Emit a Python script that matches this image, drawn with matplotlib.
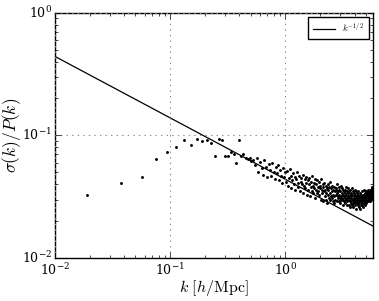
import matplotlib
matplotlib.use("Agg")
import matplotlib.pyplot as plt
import numpy as np

plt.style.use("classic")
plt.rcParams["mathtext.fontset"] = "cm"
plt.rcParams["font.family"] = "serif"
plt.rcParams["font.serif"] = ["DejaVu Serif"]

# k bins (linear spacing in k, bin index n = 1..309)
dk = 0.01885
bin_index = np.arange(1, 310)
k = dk * bin_index

ratio = [
    0.0326, 0.041, 0.046, 0.064, 0.073, 0.080, 0.091, 0.084, 0.093, 0.090,
    0.091, 0.086, 0.0685, 0.094, 0.091, 0.0685, 0.0685, 0.074, 0.071, 0.060,
    0.091, 0.068, 0.070, 0.066, 0.064, 0.065, 0.062, 0.063,
    0.057, 0.066, 0.050, 0.061, 0.054, 0.048, 0.063, 0.055, 0.046, 0.059,
    0.052, 0.047, 0.060, 0.050, 0.044, 0.055, 0.049, 0.058, 0.043, 0.052,
    0.047, 0.041, 0.054, 0.046, 0.050,
    0.042, 0.051, 0.039, 0.045, 0.053, 0.047, 0.037, 0.043, 0.049, 0.040,
    0.046, 0.036, 0.044, 0.050, 0.041, 0.038, 0.047, 0.035, 0.042, 0.045,
    0.040, 0.048, 0.034, 0.039, 0.044, 0.037, 0.046, 0.041, 0.033, 0.043,
    0.036, 0.040, 0.045, 0.032, 0.038, 0.042, 0.035, 0.047, 0.039, 0.034,
    0.041, 0.037, 0.044, 0.031, 0.036, 0.040, 0.043, 0.034, 0.038, 0.035,
    0.042, 0.033, 0.037, 0.039, 0.030, 0.044, 0.036, 0.034, 0.040, 0.029,
    0.038, 0.035, 0.041, 0.032, 0.036, 0.030, 0.039, 0.034, 0.037, 0.028,
    0.033, 0.040, 0.036, 0.031, 0.038, 0.042, 0.030, 0.034, 0.037, 0.032,
    0.035, 0.031, 0.039, 0.033, 0.029, 0.036, 0.038, 0.032, 0.028, 0.035,
    0.030, 0.037, 0.033, 0.036, 0.029, 0.034, 0.040, 0.031, 0.035, 0.032,
    0.036, 0.029, 0.033, 0.038, 0.031, 0.028, 0.035, 0.032, 0.039, 0.030,
    0.034, 0.031, 0.037, 0.027, 0.033, 0.036, 0.030, 0.035, 0.032, 0.029,
    0.036, 0.031, 0.028, 0.034, 0.038, 0.030, 0.033, 0.027, 0.035, 0.031,
    0.029, 0.034, 0.032, 0.037, 0.027, 0.031, 0.035, 0.030, 0.026, 0.033,
    0.036, 0.029, 0.032, 0.028, 0.034, 0.031, 0.037, 0.027, 0.030, 0.033,
    0.028, 0.035, 0.030, 0.026, 0.032, 0.034, 0.029, 0.031, 0.036, 0.028,
    0.030, 0.033, 0.027, 0.031, 0.035, 0.029, 0.025, 0.032, 0.030, 0.034,
    0.028, 0.031, 0.027, 0.033, 0.029, 0.035, 0.026, 0.030, 0.032, 0.028,
    0.031, 0.034, 0.029, 0.025, 0.032, 0.030, 0.027, 0.033, 0.029, 0.031,
    0.028, 0.032, 0.035, 0.029, 0.027, 0.031, 0.033, 0.030, 0.026, 0.032,
    0.030, 0.028, 0.033, 0.031, 0.036, 0.029, 0.032, 0.027, 0.030, 0.034,
    0.032, 0.029, 0.031, 0.035, 0.028, 0.033, 0.030, 0.034, 0.029, 0.032,
    0.031, 0.035, 0.033, 0.029, 0.034, 0.036, 0.030, 0.032, 0.035, 0.031,
    0.034, 0.030, 0.033, 0.036, 0.031, 0.035, 0.032, 0.029, 0.034, 0.036,
    0.032, 0.035, 0.030, 0.034, 0.037, 0.031, 0.036, 0.033, 0.035, 0.038,
    0.033, 0.036, 0.031, 0.037, 0.034, 0.035,
]

# power-law reference line
line_amp = 0.044
k_range = [0.01, 5.82]
k_line = np.array(k_range)

fig = plt.figure(figsize=(3.79, 3.01), dpi=100, facecolor="white")
ax = fig.add_axes([0.145, 0.142, 0.84, 0.816])
ax.set_facecolor("white")

ax.plot(k_line, line_amp * k_line ** -0.5, color="black", lw=0.9, label=r"$k^{-1/2}$")
ax.plot(k, ratio[:len(k)], linestyle="none", marker="o", ms=2.1, mfc="black",
        mec="black", mew=0)

ax.set_xscale("log")
ax.set_yscale("log")
ax.set_xlim(k_range)
ax.set_ylim(1e-2, 1)
ax.grid(True, which="major", linestyle=":", color="0.55", lw=0.8)
ax.tick_params(labelsize=9, which="both", direction="in")
ax.tick_params(axis="x", which="both", pad=3)
ax.tick_params(axis="y", which="both", pad=2)
ax.set_xlabel(r"$k\ [h/\mathrm{Mpc}]$", fontsize=11.5, labelpad=0)
ax.set_ylabel(r"$\sigma(k)/P(k)$", fontsize=12.5)
ax.yaxis.set_label_coords(-0.1, 0.5)
leg = ax.legend(loc="upper right", fontsize=6.5, fancybox=False, numpoints=1,
                handlelength=2.5, borderpad=0.5)
leg.get_frame().set_edgecolor("black")

fig.savefig("out.png", dpi=100, facecolor="white")
